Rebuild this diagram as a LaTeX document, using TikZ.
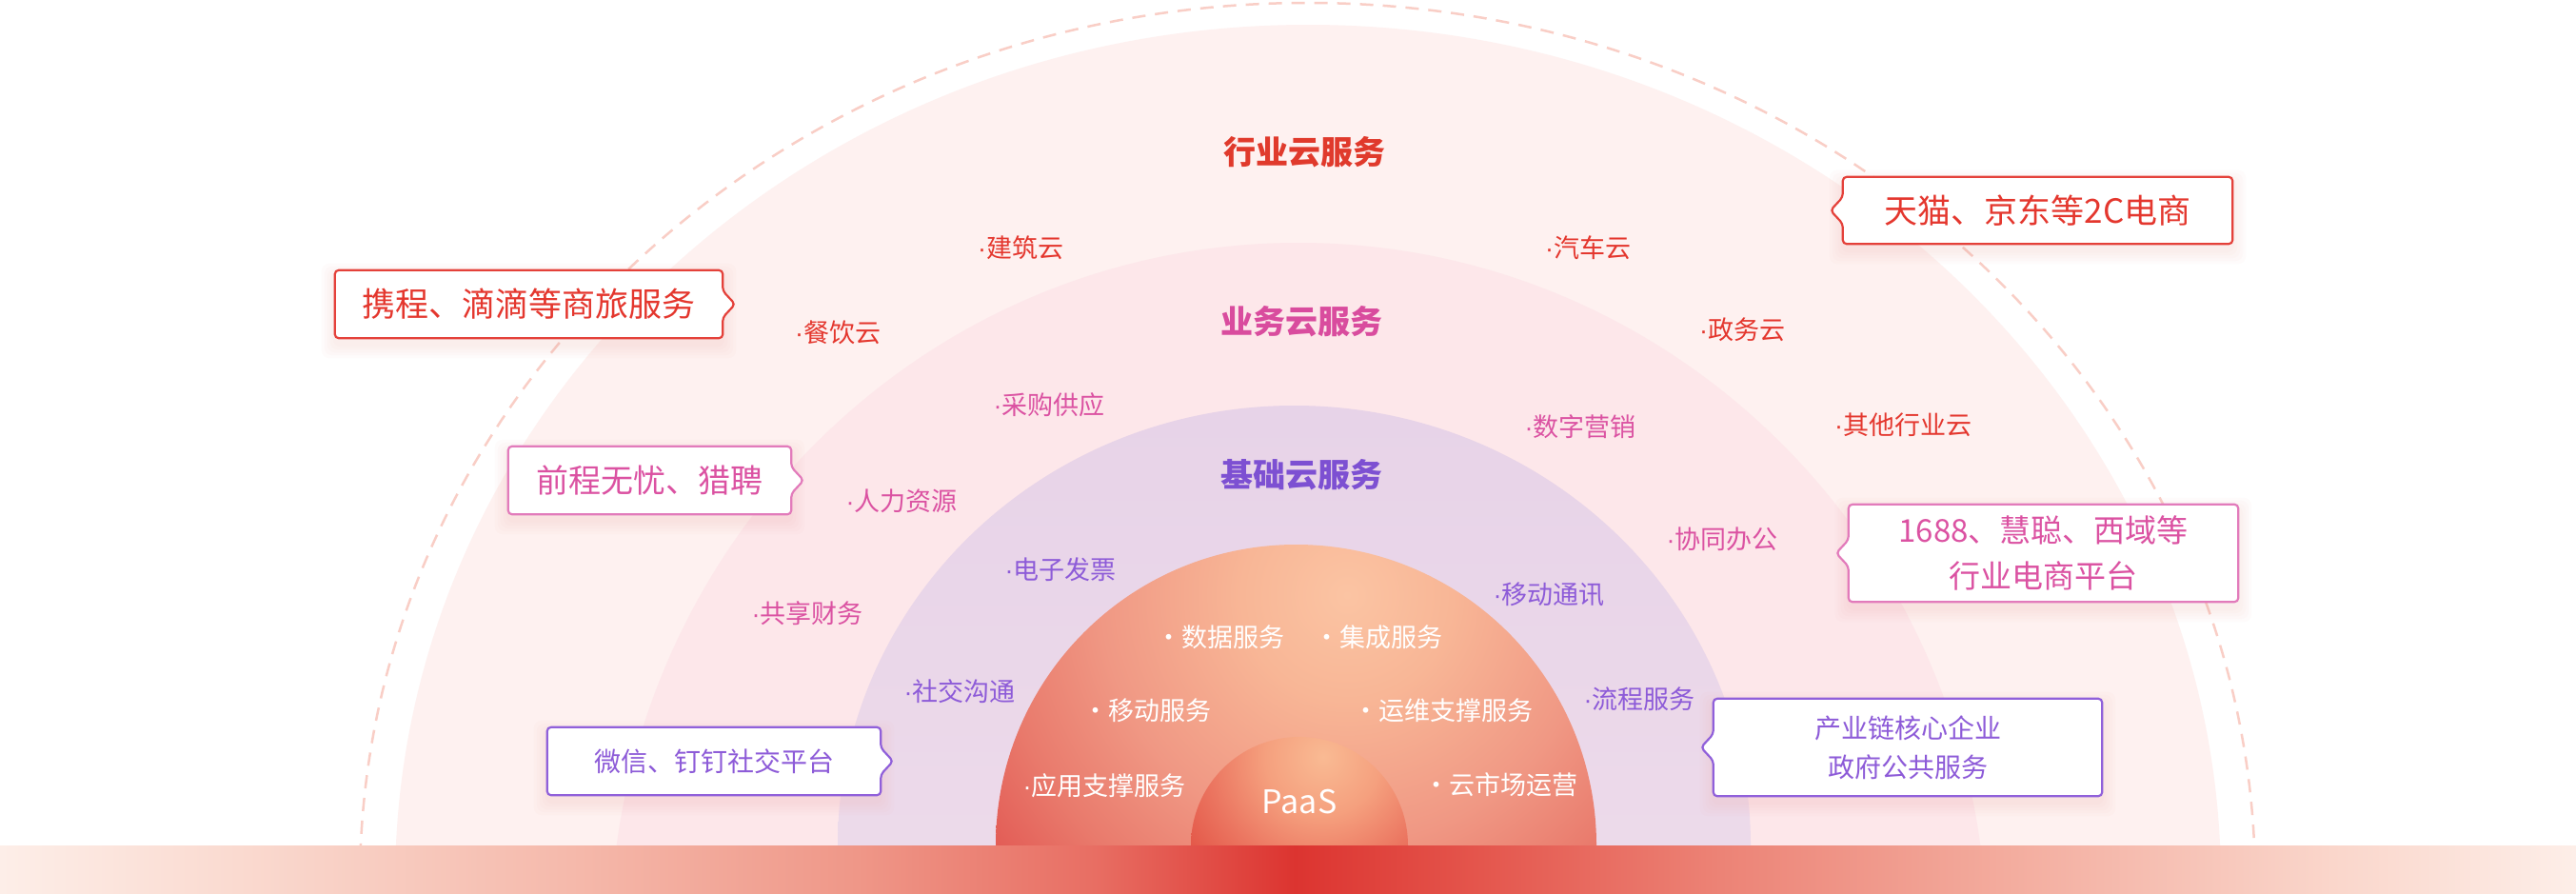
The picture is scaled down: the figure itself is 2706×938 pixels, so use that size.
\documentclass[tikz,border=0pt]{standalone}
\usepackage{fontspec}
\newfontfamily\cjk{Noto Sans CJK SC}
\newfontfamily\latn{Liberation Sans}
\newcommand{\md}{{\latn ·}}
\usetikzlibrary{calc}
\pgfdeclarelayer{back}
\pgfdeclarelayer{mid}
\pgfsetlayers{back,mid,main}
% colours
\definecolor{outerc}{HTML}{FEF1F0}
\definecolor{bizc}{HTML}{FDE7EA}
\definecolor{purtop}{HTML}{E7D3E8}
\definecolor{purbot}{HTML}{F2E1EC}
\definecolor{dashc}{HTML}{F9CEC6}
\definecolor{redt}{HTML}{E4372E}
\definecolor{pinkt}{HTML}{DB52A2}
\definecolor{purt}{HTML}{8D5BD8}
\definecolor{redtitle}{HTML}{E03A2C}
\definecolor{pinktitle}{HTML}{D94C9E}
\definecolor{purtitle}{HTML}{7D50D2}
\definecolor{redb}{HTML}{E4413A}
\definecolor{pinkb}{HTML}{E27BBB}
\definecolor{purb}{HTML}{9060DA}
\definecolor{shadc}{HTML}{F29A90}
\definecolor{og0}{HTML}{FBC4A3}
\definecolor{og1}{HTML}{F8B696}
\definecolor{og2}{HTML}{F09884}
\definecolor{og3}{HTML}{E97A6C}
\definecolor{og4}{HTML}{E25A54}
\definecolor{pg0}{HTML}{F9BA93}
\definecolor{pg1}{HTML}{F5A07E}
\definecolor{pg2}{HTML}{EB7560}
\definecolor{pg3}{HTML}{E04A3E}
\definecolor{b0}{HTML}{FDEEE8}
\definecolor{b1}{HTML}{FADAD0}
\definecolor{b2}{HTML}{F5B9AB}
\definecolor{b3}{HTML}{EF9788}
\definecolor{b4}{HTML}{E86E63}
\definecolor{b5}{HTML}{DC3430}
\definecolor{b6}{HTML}{E4554C}
\definecolor{b7}{HTML}{EC8275}
\definecolor{b8}{HTML}{F3AB9D}
\definecolor{b9}{HTML}{FAD6CB}
\pgfdeclareradialshading{orglow}{\pgfpoint{0bp}{0bp}}{color(0bp)=(og0); color(6bp)=(og1); color(14bp)=(og2); color(20bp)=(og3); color(25bp)=(og4); color(50bp)=(og4)}
\pgfdeclareradialshading{paasglow}{\pgfpoint{0bp}{0bp}}{color(0bp)=(pg0); color(8bp)=(pg1); color(16bp)=(pg2); color(25bp)=(pg3); color(50bp)=(pg3)}
\pgfdeclarehorizontalshading{bandshade}{100bp}{color(0bp)=(b0); color(25bp)=(b0); color(29.62bp)=(b1); color(36.09bp)=(b2); color(41.63bp)=(b3); color(46.25bp)=(b4); color(50.13bp)=(b5); color(53.64bp)=(b6); color(58.26bp)=(b7); color(63.8bp)=(b8); color(70.27bp)=(b9); color(75bp)=(b0); color(100bp)=(b0)}
\tikzset{
  item/.style={font=\cjk\fontsize{27}{30}\selectfont, inner sep=0pt},
  ttl/.style={font=\cjk\bfseries\fontsize{34}{38}\selectfont, inner sep=0pt},
  box/.style={inner sep=0pt, align=center},
}
\newcommand{\boxshadow}[1]{%
  \foreach \k in {2,5,8,11,14}{%
    \fill[shadc, opacity=0.03, rounded corners=8pt]
      ([xshift=-\k pt, yshift=\k pt-7pt]#1.north west) rectangle ([xshift=\k pt, yshift=-\k pt-7pt]#1.south east);}}
\newcommand{\calloutR}[2]{%
  \begin{pgfonlayer}{mid}
  \boxshadow{#1}
  \draw[line width=2.2pt, draw=#2, fill=white, rounded corners=4pt]
    (#1.north west) -- (#1.north east) -- ([yshift=14pt]#1.east) -- ([xshift=13pt]#1.east)
    -- ([yshift=-14pt]#1.east) -- (#1.south east) -- (#1.south west) -- cycle;
  \end{pgfonlayer}}
\newcommand{\calloutL}[2]{%
  \begin{pgfonlayer}{mid}
  \boxshadow{#1}
  \draw[line width=2.2pt, draw=#2, fill=white, rounded corners=4pt]
    (#1.north east) -- (#1.north west) -- ([yshift=14pt]#1.west) -- ([xshift=-13pt]#1.west)
    -- ([yshift=-14pt]#1.west) -- (#1.south west) -- (#1.south east) -- cycle;
  \end{pgfonlayer}}
\begin{document}
\begin{tikzpicture}[x=1pt,y=-1pt]
\useasboundingbox (0,0) rectangle (2706,938);
\begin{pgfonlayer}{back}
\fill[white] (0,0) rectangle (2706,938);
\begin{scope}
  \clip (0,0) rectangle (2706,888);
  \fill[outerc] (1374,928) ellipse [x radius=959pt, y radius=902pt];
  \draw[dashc, line width=2.5pt, dash pattern=on 14pt off 10pt] (1373.5,928) ellipse [x radius=995.5pt, y radius=925pt];
  \fill[bizc] (1364,988) ellipse [x radius=723pt, y radius=733pt];
  \shade[top color=purtop, bottom color=purbot] (1359.5,888) ellipse [x radius=479.5pt, y radius=462pt];
  \begin{scope}
    \clip (1361.5,888) ellipse [x radius=315.5pt, y radius=316pt];
    \shade[shading=orglow] (1415,625) circle (460pt);
  \end{scope}
  \begin{scope}
    \clip (1365,888) ellipse [x radius=114pt, y radius=114pt];
    \shade[shading=paasglow] (1390,795) circle (190pt);
  \end{scope}
\end{scope}
\shade[shading=bandshade] (0,888) rectangle (2706,938);
\end{pgfonlayer}

% titles
\node[ttl, text=redtitle] (t1) at (1370,160) {行业云服务};
\node[ttl, text=pinktitle] (t2) at (1367,338) {业务云服务};
\node[ttl, text=purtitle] (t3) at (1367,499) {基础云服务};

% industry cloud items
\node[item, text=redt] (i1) at (1072,260) {\md 建筑云};
\node[item, text=redt] (i2) at (1668,260) {\md 汽车云};
\node[item, text=redt] (i3) at (880,349) {\md 餐饮云};
\node[item, text=redt] (i4) at (1830,346) {\md 政务云};
\node[item, text=redt] (i5) at (1999,446) {\md 其他行业云};

% business cloud items
\node[item, text=pinkt] (p1) at (1102,425) {\md 采购供应};
\node[item, text=pinkt] (p2) at (1660,448) {\md 数字营销};
\node[item, text=pinkt] (p3) at (947,526) {\md 人力资源};
\node[item, text=pinkt] (p4) at (1809,566) {\md 协同办公};
\node[item, text=pinkt] (p5) at (848,644) {\md 共享财务};

% basic cloud items
\node[item, text=purt] (u1) at (1114,598) {\md 电子发票};
\node[item, text=purt] (u2) at (1627,624) {\md 移动通讯};
\node[item, text=purt] (u3) at (1008,726) {\md 社交沟通};
\node[item, text=purt] (u4) at (1722,734) {\md 流程服务};

% inner white items
\node[item, text=white] (w1) at (1282,669) {·数据服务};
\node[item, text=white] (w2) at (1448,669) {·集成服务};
\node[item, text=white] (w3) at (1205,746) {·移动服务};
\node[item, text=white] (w4) at (1516,746) {·运维支撑服务};
\node[item, text=white] (w5) at (1160,825) {\md 应用支撑服务};
\node[item, text=white] (w6) at (1576,824) {·云市场运营};
\node[font=\cjk\fontsize{34}{38}\selectfont, text=white, inner sep=0pt] (paas) at (1365,842) {PaaS};

% callout boxes
\node[box, minimum width=407pt, minimum height=71pt, text=redt, font=\cjk\fontsize{35}{40}\selectfont] (c1) at (555.5,319.5) {携程、滴滴等商旅服务};
\calloutR{c1}{redb}
\node[box, minimum width=297pt, minimum height=71pt, text=pinkt, font=\cjk\fontsize{34}{40}\selectfont] (c2) at (682.5,504.5) {前程无忧、猎聘};
\calloutR{c2}{pinkb}
\node[box, minimum width=350pt, minimum height=71pt, text=purt, font=\cjk\fontsize{28}{34}\selectfont] (c3) at (750,799.5) {微信、钉钉社交平台};
\calloutR{c3}{purb}
\node[box, minimum width=409pt, minimum height=70pt, text=redt, font=\cjk\fontsize{35}{40}\selectfont] (c4) at (2140.5,221) {天猫、京东等2C电商};
\calloutL{c4}{redb}
\node[box, minimum width=409pt, minimum height=102pt, text=pinkt, font=\cjk\fontsize{33}{48}\selectfont] (c5) at (2146.5,581) {1688、慧聪、西域等\\行业电商平台};
\calloutL{c5}{pinkb}
\node[box, minimum width=408pt, minimum height=102pt, text=purt, font=\cjk\fontsize{28}{41}\selectfont] (c6) at (2004,785) {产业链核心企业\\政府公共服务};
\calloutL{c6}{purb}
\end{tikzpicture}
\end{document}
